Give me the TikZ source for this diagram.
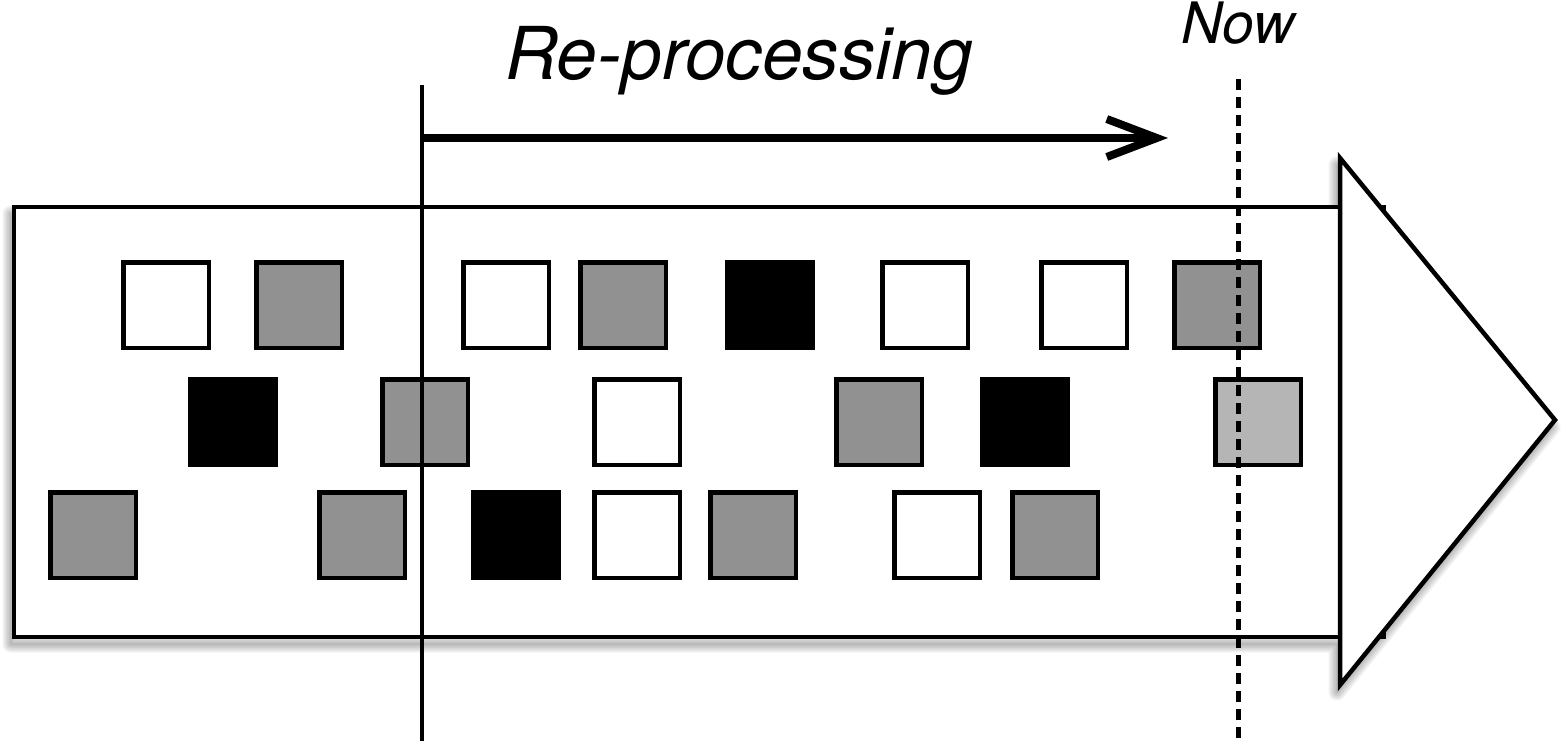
\documentclass[tikz,border=0pt]{standalone}
\usepackage{fontspec}
\setmainfont{TeX Gyre Heros}
\usepackage{xcolor}
\usepackage{tikz}
\usetikzlibrary{arrows.meta}
\definecolor{evgray}{HTML}{919191}
\definecolor{evlight}{HTML}{B5B5B5}
\tikzset{
  ev box/.style={
    rectangle,
    minimum size=17.1mm,
    inner sep=0pt,
    line width=0.9mm,
    draw=black,
  },
  stream line/.style={line width=0.9mm, line join=miter},
  stream shadow/.style={line join=round, opacity=0.05},
  cut line/.style={line width=0.9mm},
  now line/.style={line width=1mm, dash pattern=on 2.2mm off 1.4mm},
  rp arrow/.style={-{Straight Barb[length=10mm,width=7.6mm]}, line width=1.6mm},
  rp label/.style={anchor=base, font=\itshape\fontsize{41.5}{41.5}\selectfont},
  now label/.style={anchor=base, font=\itshape\fontsize{32.5}{32.5}\selectfont},
}

\begin{document}
\begin{tikzpicture}[x=0.2mm, y=-0.2mm]
  \useasboundingbox (0,0) rectangle (1565,741);
  % soft shadow under the stream
  \foreach \w in {2,5,...,17}
    \draw[stream shadow, line width=\w*0.2mm, shift={(-3,7)}]
      (14,207) -- (1340,207) -- (1340,158) -- (1555,420) -- (1340,685)
      -- (1340,637) -- (14,637) -- cycle;
  % the stream
  \draw[stream line, fill=white] (14,207) rectangle (1384,637);
  \draw[stream line, fill=white] (1340,158) -- (1555,420) -- (1340,685) -- cycle;
  % events
  \foreach \x/\c [count=\i] in {166/white,299/evgray,506/white,623/evgray,
      770/black,925/white,1084/white,1217/evgray}
    \node[ev box, fill=\c] (top-\i) at (\x,305) {};
  \foreach \x/\c [count=\i] in {233/black,425/evgray,637/white,879/evgray,
      1025/black,1258/evlight}
    \node[ev box, fill=\c] (mid-\i) at (\x,422) {};
  \foreach \x/\c [count=\i] in {93/evgray,362/evgray,516/black,637/white,
      753/evgray,937/white,1055/evgray}
    \node[ev box, fill=\c] (bot-\i) at (\x,535) {};
  % time marks
  \coordinate (cut top) at (422,85);
  \coordinate (cut bottom) at (422,741);
  \coordinate (now top) at (1238,79);
  \coordinate (now bottom) at (1238,741);
  \draw[cut line] (cut top) -- (cut bottom);
  \draw[now line] (now top) -- (now bottom);
  \coordinate (rp start) at (422,138);
  \coordinate (rp end) at (1168,138);
  \draw[rp arrow] (rp start) -- (rp end);
  \node[rp label] (reproc) at (739,79) {Re-processing};
  \node[now label] (now) at (1238,43) {Now};
\end{tikzpicture}
\end{document}
